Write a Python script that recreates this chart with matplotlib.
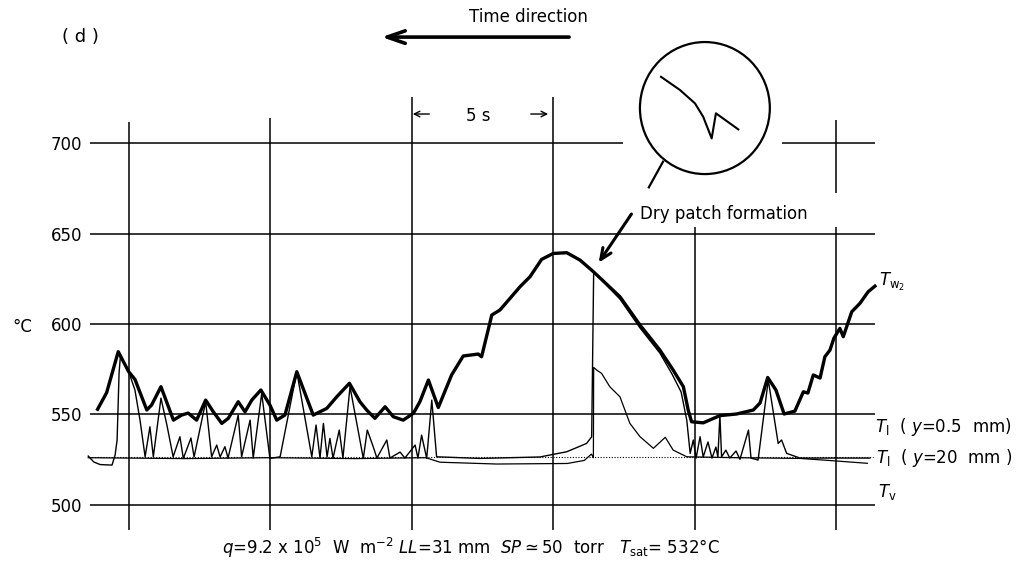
import numpy as np
import matplotlib
matplotlib.use("Agg")
import matplotlib.pyplot as plt
from matplotlib.patches import Ellipse

plt.rcParams['font.family'] = ['DejaVu Sans']
plt.rcParams['mathtext.fontset'] = 'dejavusans'

# time in s (grid lines every 5 s), temperature in degC

# wall temperature T_w2 (thick trace)
tw_t = [-1.10, -0.78, -0.37, 0.00, 0.22, 0.64, 0.81, 1.14, 1.58, 1.87, 2.10, 2.40,
        2.72, 2.99, 3.29, 3.52, 3.87, 4.11, 4.35, 4.67, 4.99, 5.23, 5.52, 5.94,
        6.52, 7.00, 7.35, 7.80, 8.17, 8.41, 8.70, 9.06, 9.35, 9.70, 10.06, 10.29,
        10.59, 10.94, 11.41, 11.82, 12.35, 12.47, 12.83, 13.12, 13.83, 14.18, 14.59,
        15.00, 15.48, 15.95, 16.42, 17.36, 18.07, 18.77, 19.24, 19.60, 19.77, 19.89,
        20.30, 20.89, 21.48, 22.07, 22.31, 22.58, 22.87, 23.16, 23.54, 23.84, 24.00,
        24.19, 24.43, 24.60, 24.78, 24.92, 25.13, 25.25, 25.55, 25.84, 26.13, 26.37]
tw_v = [552.8, 562.0, 584.7, 573.6, 569.4, 552.4, 555.2, 565.3, 546.8, 549.6, 550.7, 546.8,
        557.9, 551.4, 545.0, 547.8, 557.0, 551.4, 557.9, 563.5, 555.2, 546.8, 549.6, 573.6,
        549.6, 553.3, 559.7, 567.2, 557.0, 552.4, 547.8, 554.2, 548.7, 546.8, 550.6, 557.0,
        569.0, 553.8, 571.8, 582.3, 583.4, 581.9, 605.0, 607.8, 620.7, 626.2, 635.8,
        639.1, 639.5, 635.4, 629.0, 615.1, 599.4, 585.6, 574.5, 565.3, 552.4, 545.9,
        545.3, 549.3, 550.2, 552.4, 556.3, 570.4, 563.5, 550.2, 551.8, 562.5, 561.8,
        571.8, 570.1, 581.9, 585.6, 592.2, 597.6, 593.0, 606.8, 611.5, 617.9, 621.0]

# liquid temperature T_l (y = 0.5 mm), spiky thin trace
tl1_t = [-1.43, -1.23, -1.01, -0.59, -0.48, -0.41, -0.34, -0.29, 0.00, 0.22, 0.40, 0.58,
         0.75, 0.87, 1.14, 1.35, 1.57, 1.81, 1.93, 2.20, 2.31, 2.72, 2.93, 3.11, 3.23,
         3.40, 3.51, 3.87, 3.99, 4.29, 4.40, 4.70, 4.99, 5.35, 5.94, 6.47, 6.62, 6.76,
         6.88, 7.01, 7.11, 7.22, 7.44, 7.57, 7.82, 8.29, 8.43, 8.64, 8.77, 9.12, 9.23,
         9.59, 9.76, 10.12, 10.22, 10.35, 10.53, 10.71, 10.88, 12.41, 14.53, 15.48,
         16.18, 16.36, 16.43, 17.36, 18.07, 18.77, 19.20, 19.52, 19.72, 19.84, 19.95,
         20.05, 20.19, 20.30, 20.47, 20.61, 20.75, 20.82, 20.89, 20.95, 21.10, 21.24,
         21.46, 21.60, 21.90, 21.99, 22.24, 22.60, 22.95, 23.07, 23.25, 23.72, 24.78, 26.19]
tl1_v = [526.9, 523.6, 522.2, 521.9, 527.5, 535.8, 572.9, 582.8, 573.6, 563.5, 546.8, 526.5,
         543.1, 526.5, 559.0, 544.1, 526.5, 537.6, 525.6, 536.9, 526.4, 557.0, 526.5, 533.0, 526.4,
         532.1, 525.8, 549.6, 526.5, 546.8, 525.8, 561.6, 525.6, 526.5, 573.6, 526.5, 544.1, 525.8,
         545.0, 526.4, 536.7, 525.8, 541.3, 525.8, 565.3, 525.6, 541.3, 532.1, 525.8, 535.8, 525.8,
         529.1, 525.8, 533.0, 525.8, 538.5, 525.6, 557.9, 526.5, 525.6, 526.4, 529.3,
         533.9, 537.6, 629.0, 613.8, 597.8, 583.9, 572.3, 562.4, 546.8, 528.4, 535.8,
         525.8, 537.6, 526.4, 534.7, 525.8, 531.9, 526.4, 549.6, 526.5, 530.2, 525.8,
         529.7, 525.1, 541.3, 525.8, 524.7, 569.0, 533.9, 535.8, 528.4, 525.8, 525.8, 525.8]

# liquid temperature T_l (y = 20 mm)
tl2_t = [-1.43, 2.0, 5.0, 8.0, 10.5, 11.0, 13.0, 15.5, 16.1, 16.35, 16.42, 16.43,
         16.54, 16.71, 17.00, 17.36, 17.71, 18.07, 18.54, 18.96, 19.24, 19.72,
         21.5, 23.72, 24.90, 26.10]
tl2_v = [526.0, 525.5, 526.0, 525.5, 526.0, 523.5, 522.5, 522.8, 524.5, 528.0, 526.0, 576.0,
         574.5, 572.7, 565.3, 559.7, 545.0, 537.6, 531.2, 537.3, 530.2, 526.5,
         526.0, 525.6, 524.3, 522.9]

# dotted reference trace
ref_t = [-1.40, 26.30]
ref_v = [526.5, 526.5]

# trace drawn inside the magnifying circle
inset_t = [18.81, 19.48, 20.01, 20.30, 20.60, 20.75, 21.54]
inset_v = [736.9, 729.6, 722.2, 714.8, 702.8, 716.7, 707.8]

grid_temps = [500, 550, 600, 650, 700]
grid_times = [0, 5, 10, 15, 20, 25]

fig = plt.figure(figsize=(10.26, 5.67), dpi=100)
ax = fig.add_axes([0.08285, 0.05644, 0.77485, 0.78483])
ax.set_xlim(-1.544, 26.548)
ax.set_ylim(483.2, 729.6)
for s in ax.spines.values():
    s.set_visible(False)
ax.set_xticks([])
ax.set_yticks(grid_temps)
ax.tick_params(axis='y', length=0, pad=2, labelsize=12)

lk = dict(color='black', lw=1.1)
# horizontal grid lines (700 line broken by the circle)
for temp in grid_temps:
    if temp == 700:
        ax.hlines(temp, -1.37, 17.47, **lk)
        ax.hlines(temp, 23.09, 26.37, **lk)
    else:
        ax.hlines(temp, -1.37, 26.37, **lk)
# vertical grid lines with their individual extents
tops = [711.8, 714.1, 725.7, 725.7, 653.7, 653.7]
for tt, top in zip(grid_times, tops):
    ax.vlines(tt, 485.9, top, **lk)
ax.vlines(grid_times[-1], 672.5, 713.0, **lk)

ax.plot(ref_t, ref_v, color='black', lw=0.8, ls=(0, (1, 1.5)))
ax.plot(tl2_t, tl2_v, color='black', lw=0.9)
ax.plot(tl1_t, tl1_v, color='black', lw=1.0)
ax.plot(tw_t, tw_v, color='black', lw=2.4, solid_joinstyle='round')

# magnifier
ax.add_patch(Ellipse((20.36, 719.6), 4.59, 73.1, fill=False, ec='black', lw=1.6,
                     clip_on=False))
ax.plot([18.88, 18.38], [689.9, 675.7], color='black', lw=1.6, clip_on=False)
ax.plot(inset_t, inset_v, color='black', lw=1.5, clip_on=False)

# annotations
ax.annotate('', xy=(16.55, 632.7), xytext=(17.82, 662.2),
            arrowprops=dict(arrowstyle='->,head_length=0.8,head_width=0.35',
                            lw=2.2, color='black'), annotation_clip=False)
ax.text(18.07, 660.9, 'Dry patch formation', fontsize=12, va='center', ha='left')

ax.annotate('', xy=(8.84, 758.9), xytext=(15.66, 758.9),
            arrowprops=dict(arrowstyle='->,head_length=1.3,head_width=0.45',
                            lw=2.6, color='black'), annotation_clip=False)
ax.text(14.11, 770.0, 'Time direction', fontsize=12, ha='center', va='center')

ax.annotate('', xy=(9.94, 716.3), xytext=(10.72, 716.3),
            arrowprops=dict(arrowstyle='->', lw=1.0, color='black'), annotation_clip=False)
ax.annotate('', xy=(14.92, 716.3), xytext=(14.11, 716.3),
            arrowprops=dict(arrowstyle='->', lw=1.0, color='black'), annotation_clip=False)
ax.text(12.35, 715.2, '5 s', fontsize=12, ha='center', va='center')

ax.text(-1.72, 758.9, '( d )', fontsize=13, ha='center', va='center')
ax.text(-3.77, 598.3, '°C', fontsize=12, ha='center', va='center')

ax.text(26.50, 623.3, r'$T_{\mathrm{w}_2}$', fontsize=12, ha='left', va='center')
ax.text(26.37, 543.0, r'$T_{\mathrm{l}}$  ( $y$=0.5  mm)', fontsize=12, ha='left', va='center')
ax.text(26.41, 525.8, r'$T_{\mathrm{l}}$  ( $y$=20  mm )', fontsize=12, ha='left', va='center')
ax.text(26.48, 507.0, r'$T_{\mathrm{v}}$', fontsize=12, ha='left', va='center')

ax.text(12.10, 476.0,
        r'$q$=9.2 x 10$^5$  W  m$^{-2}$ $LL$=31 mm  $SP\simeq$50  torr   $T_{\mathrm{sat}}$= 532°C',
        fontsize=12, ha='center', va='center')

fig.savefig('out.png', dpi=100)
